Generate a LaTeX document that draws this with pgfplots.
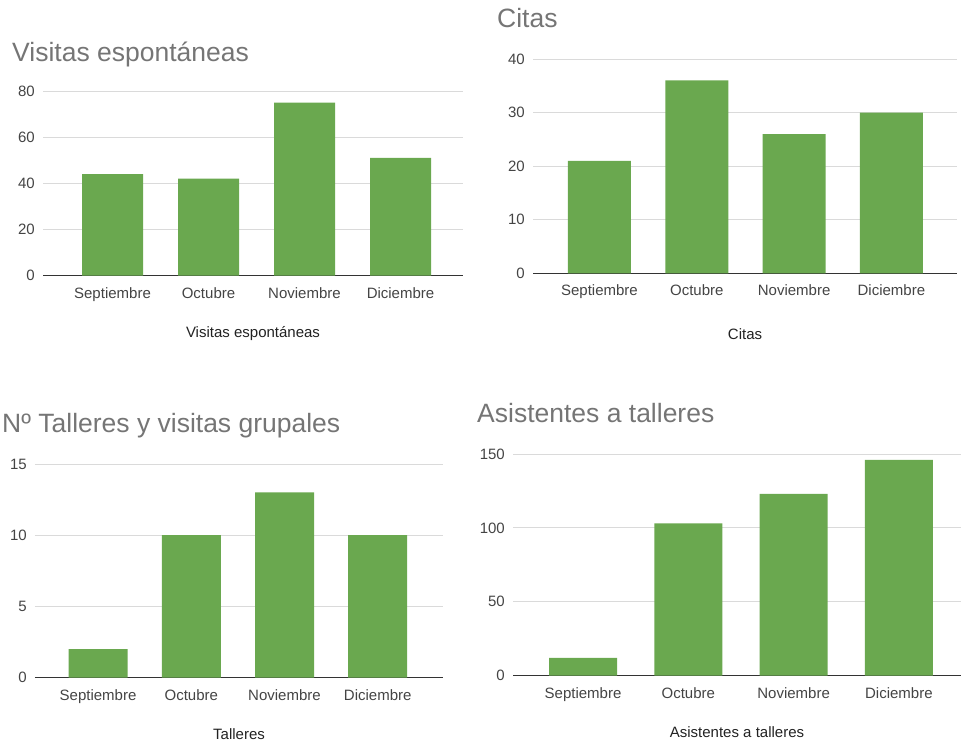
\documentclass[border=0pt]{standalone}
\usepackage{fontspec}
\setmainfont{Liberation Sans}
\usepackage{pgfplots}
\pgfplotsset{compat=1.18}
\definecolor{barg}{HTML}{6AA84F}
\definecolor{titleg}{HTML}{757575}
\definecolor{tickg}{HTML}{444444}
\definecolor{gridg}{HTML}{DADADA}
\definecolor{basel}{HTML}{333333}
\definecolor{labg}{HTML}{222222}

\pgfplotsset{
  gsheet/.style={
    scale only axis,
    ybar,
    ymin=0,
    axis x line*=bottom,
    axis y line*=left,
    x axis line style={basel, line width=1.3pt, -},
    y axis line style={draw=none},
    major tick length=0pt,
    ymajorgrids,
    grid style={gridg, line width=0.9pt},
    xtick={0,1,2,3},
    xticklabels={Septiembre,Octubre,Noviembre,Diciembre},
    /pgf/number format/assume math mode=true,
    tick label style={font=\fontsize{15}{18}\selectfont, text=tickg},
    xticklabel style={anchor=base, inner sep=0pt, yshift=-22.5pt},
    yticklabel style={anchor=east, inner sep=0pt, xshift=-8pt},
    xlabel style={at={(axis description cs:0.5,0)}, anchor=base, inner sep=0pt, yshift=-62pt, font=\fontsize{15}{18}\selectfont, text=labg},
    title style={at={(axis description cs:0,1)}, anchor=base west, inner sep=0pt, font=\fontsize{26.5}{30}\selectfont, text=titleg},
    cycle list={{fill=barg, draw=none}},
  }
}

\begin{document}
\begin{tikzpicture}
\path[use as bounding box] (0pt,0pt) rectangle (961pt,-743pt);

% Panel 1
\begin{axis}[gsheet,
  at={(43pt,-275.7pt)}, anchor=south west,
  width=420pt, height=184.7pt,
  xmin=-0.724, xmax=3.651, ymax=80, ytick={0,20,40,60,80},
  bar width=61pt,
  title={Visitas espontáneas},
  title style={xshift=-31pt, yshift=24pt},
  xlabel={Visitas espontáneas}]
\addplot[fill=barg, draw=none] coordinates {(0,44) (1,42) (2,75) (3,51)};
\end{axis}

% Panel 2
\begin{axis}[gsheet,
  at={(533pt,-273.3pt)}, anchor=south west,
  width=424pt, height=214.3pt,
  xmin=-0.683, xmax=3.674, ymax=40, ytick={0,10,20,30,40},
  bar width=63pt,
  title={Citas},
  title style={xshift=-36pt, yshift=26pt},
  xlabel={Citas},
  xlabel style={yshift=-4pt}]
\addplot[fill=barg, draw=none] coordinates {(0,21) (1,36) (2,26) (3,30)};
\end{axis}

% Panel 3
\begin{axis}[gsheet,
  at={(35pt,-677.7pt)}, anchor=south west,
  width=408pt, height=213.7pt,
  xmin=-0.676, xmax=3.70, ymax=15, ytick={0,5,10,15},
  bar width=59pt,
  title={Nº Talleres y visitas grupales},
  title style={xshift=-33pt, yshift=26pt},
  xlabel={Talleres}]
\addplot[fill=barg, draw=none] coordinates {(0,2) (1,10) (2,13) (3,10)};
\end{axis}

% Panel 4
\begin{axis}[gsheet,
  at={(513pt,-675.7pt)}, anchor=south west,
  width=448pt, height=221.7pt,
  xmin=-0.665, xmax=3.59, ymax=150, ytick={0,50,100,150},
  bar width=68pt,
  title={Asistentes a talleres},
  title style={xshift=-36pt, yshift=26pt},
  xlabel={Asistentes a talleres}]
\addplot[fill=barg, draw=none] coordinates {(0,12) (1,103) (2,123) (3,146)};
\end{axis}
\end{tikzpicture}
\end{document}
